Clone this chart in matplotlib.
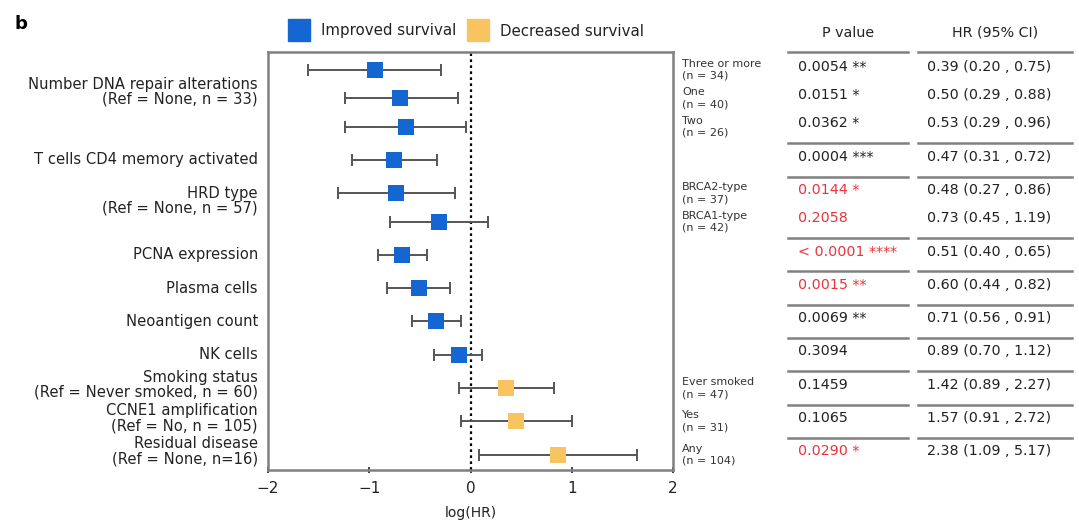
import numpy as np
import matplotlib
matplotlib.use("Agg")
import matplotlib.pyplot as plt
from matplotlib.transforms import blended_transform_factory
from matplotlib.lines import Line2D

plt.rcParams['font.family'] = ['DejaVu Sans']

# ---------------- data ----------------
hr = [0.39, 0.50, 0.53, 0.47, 0.48, 0.73, 0.51, 0.60, 0.71, 0.89, 1.42, 1.57, 2.38]
hr_lo = [0.20, 0.29, 0.29, 0.31, 0.27, 0.45, 0.40, 0.44, 0.56, 0.70, 0.89, 0.91, 1.09]
hr_hi = [0.75, 0.88, 0.96, 0.72, 0.86, 1.19, 0.65, 0.82, 0.91, 1.12, 2.27, 2.72, 5.17]
p_text = ["0.0054 **", "0.0151 *", "0.0362 *", "0.0004 ***", "0.0144 *", "0.2058",
          "< 0.0001 ****", "0.0015 **", "0.0069 **", "0.3094", "0.1459", "0.1065", "0.0290 *"]
p_red = [False, False, False, False, True, True, True, True, False, False, False, False, True]
hr_text = ["0.39 (0.20 , 0.75)", "0.50 (0.29 , 0.88)", "0.53 (0.29 , 0.96)",
           "0.47 (0.31 , 0.72)", "0.48 (0.27 , 0.86)", "0.73 (0.45 , 1.19)",
           "0.51 (0.40 , 0.65)", "0.60 (0.44 , 0.82)", "0.71 (0.56 , 0.91)",
           "0.89 (0.70 , 1.12)", "1.42 (0.89 , 2.27)", "1.57 (0.91 , 2.72)",
           "2.38 (1.09 , 5.17)"]
sub_labels = ["Three or more\n(n = 34)", "One\n(n = 40)", "Two\n(n = 26)", "",
              "BRCA2-type\n(n = 37)", "BRCA1-type\n(n = 42)", "", "", "", "",
              "Ever smoked\n(n = 47)", "Yes\n(n = 31)", "Any\n(n = 104)"]
group_labels = ["Number DNA repair alterations\n(Ref = None, n = 33)",
                "T cells CD4 memory activated",
                "HRD type\n(Ref = None, n = 57)",
                "PCNA expression", "Plasma cells", "Neoantigen count", "NK cells",
                "Smoking status\n(Ref = Never smoked, n = 60)",
                "CCNE1 amplification\n(Ref = No, n = 105)",
                "Residual disease\n(Ref = None, n=16)"]
group_sizes = [3, 1, 2, 1, 1, 1, 1, 1, 1, 1]
xticks = [-2, -1, 0, 1, 2]

BLUE = "#1467d2"
ORANGE = "#f8c462"
RED = "#e8353c"
GRAY = "#808080"
TXT = "#222222"

# ---------------- layout of rows ----------------
ypos = []
group_idx = []
y = 0.0
for g, n in enumerate(group_sizes):
    for k in range(n):
        if ypos:
            y += 0.85 if k > 0 else 1.0
        ypos.append(y)
        group_idx.append(g)
ypos = np.array(ypos)

loghr = np.log(hr)
lo = np.log(hr_lo)
hi = np.log(hr_hi)

fig = plt.figure(figsize=(10.79, 5.25), dpi=100)
ax = fig.add_axes([268 / 1079, 1 - 470 / 525, (673 - 268) / 1079, (470 - 52) / 525])

for i in range(len(hr)):
    col = BLUE if hr[i] < 1 else ORANGE
    ax.errorbar(loghr[i], ypos[i], xerr=[[loghr[i] - lo[i]], [hi[i] - loghr[i]]],
                fmt='none', ecolor="#555555", elinewidth=1.4, capsize=4,
                capthick=1.4, zorder=3)
    ax.plot(loghr[i], ypos[i], marker='s', color=col, markersize=11.5,
            markeredgewidth=0, linestyle='none', zorder=4)

ax.axvline(0, color="black", linestyle=(0, (1.2, 1.5)), linewidth=1.6, zorder=2)
ax.set_xlim(-2, 2)
ax.set_ylim(12.01, -0.54)
ax.set_xticks(xticks)
ax.set_xticklabels([str(t) if t >= 0 else "\u2212" + str(-t) for t in xticks], fontsize=11)
ax.set_yticks([])
for s in ax.spines.values():
    s.set_color(GRAY)
    s.set_linewidth(1.8)
ax.tick_params(axis='x', colors="#444444", length=4, width=1.4, direction='inout',
               labelcolor=TXT, pad=6)
ax.set_xlabel("log(HR)", fontsize=10, labelpad=7, color=TXT)

# left group labels
tr_l = blended_transform_factory(ax.transAxes, ax.transData)
for g, lab in enumerate(group_labels):
    ys = ypos[np.array(group_idx) == g]
    yl = ys.mean() - (0.2 if len(ys) > 1 else 0.0)
    if "\n" in lab and len(ys) == 1:
        yl = ys[0] - 0.1
    ax.text(-0.025, yl, lab, transform=tr_l, ha='right', va='center',
            fontsize=10.6, color=TXT, linespacing=1.0)

# right sub labels
for i, lab in enumerate(sub_labels):
    if lab:
        ax.text(1.022, ypos[i], lab, transform=tr_l, ha='left', va='center',
                fontsize=8, color="#333333", linespacing=1.25)

# table
tr_t = blended_transform_factory(fig.transFigure, ax.transData)
for i in range(len(hr)):
    ax.text(798 / 1079, ypos[i] - 0.1, p_text[i], transform=tr_t, ha='left', va='center',
            fontsize=10.3, color=RED if p_red[i] else TXT, clip_on=False)
    ax.text(927 / 1079, ypos[i] - 0.1, hr_text[i], transform=tr_t, ha='left', va='center',
            fontsize=10.3, color=TXT, clip_on=False)

line_ys = [-0.54]
for i in range(1, len(ypos)):
    if group_idx[i] != group_idx[i - 1]:
        line_ys.append((ypos[i] + ypos[i - 1]) / 2)
for ly in line_ys:
    for x0, x1 in [(788, 908), (918, 1072)]:
        fig.add_artist(Line2D([x0 / 1079, x1 / 1079], [ly, ly], transform=tr_t,
                              color=GRAY, linewidth=1.8))

fig.text(848 / 1079, 1 - 33 / 525, "P value", ha='center', va='center', fontsize=10.3, color=TXT)
fig.text(995 / 1079, 1 - 33 / 525, "HR (95% CI)", ha='center', va='center', fontsize=10.3, color=TXT)

# legend
handles = [Line2D([], [], marker='s', linestyle='none', markersize=16.5, color=BLUE, label="Improved survival"),
           Line2D([], [], marker='s', linestyle='none', markersize=16.5, color=ORANGE, label="Decreased survival")]
fig.legend(handles=handles, loc='center', bbox_to_anchor=(467 / 1079, 1 - 31 / 525), ncol=2,
           frameon=False, fontsize=10.8, handletextpad=0.9, columnspacing=0.8, handlelength=1.2,
           labelcolor=TXT)

fig.text(14 / 1079, 1 - 24 / 525, "b", fontsize=13, fontweight='bold', ha='left', va='center')

fig.savefig("out.png", dpi=100)
